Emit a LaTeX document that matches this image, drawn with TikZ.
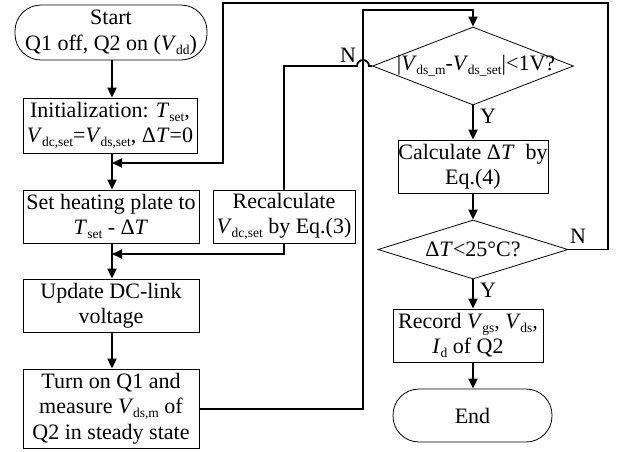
\documentclass[tikz,border=0pt]{standalone}
\usepackage{fontspec}
\setmainfont{Liberation Serif}
\usetikzlibrary{arrows.meta,shapes.geometric}
\newcommand\mysub[1]{\raisebox{-4pt}{\fontsize{13.5}{13.5}\selectfont #1}}
\newcommand\myV[1]{\textit{V}\kern-0.5pt\mysub{#1}}
\newcommand\myT{\textit{T}}
\begin{document}
\begin{tikzpicture}[x=1pt,y=1pt,
  every node/.style={font=\fontsize{22}{25.5}\selectfont, inner sep=0pt},
  stepbox/.style={draw, line width=0.8pt, align=center, anchor=center},
  term/.style={stepbox, rounded corners=26pt},
  dia/.style={draw, line width=0.8pt, shape=diamond, anchor=center},
  conn/.style={line width=1.8pt},
  arr/.style={conn, -{Triangle[length=10pt,width=9pt]}},
  lbl/.style={font=\fontsize{22}{25.5}\selectfont}]
\useasboundingbox (0,0) rectangle (623,-451);
% left column
\node[term, minimum width=192pt, minimum height=55pt] (start) at (111,-32.5) {Start\\Q1 off, Q2 on (\myV{dd})};
\node[stepbox, minimum width=174pt, minimum height=55pt] (init) at (110,-125.5) {Initialization: \myT\mysub{set},\\\myV{dc,set}=\myV{ds,set}, Δ\myT=0};
\node[stepbox, minimum width=176pt, minimum height=53pt] (heat) at (111,-216.5) {Set heating plate to\\\myT\mysub{set} - Δ\myT};
\node[stepbox, minimum width=142pt, minimum height=53pt] (recalc) at (284,-216.5) {Recalculate\\\myV{dc,set} by Eq.(3)};
\node[stepbox, minimum width=176pt, minimum height=53pt] (upd) at (111,-305.5) {Update DC-link\\voltage};
\node[stepbox, minimum width=176pt, minimum height=79pt] (turn) at (111,-408.5) {Turn on Q1 and\\measure \myV{ds,m} of\\Q2 in steady state};
% right column
\node[dia, minimum width=201pt, minimum height=78pt, label={[lbl]center:{\hspace{6pt}|\myV{ds\_m}-\myV{ds\_set}|<1V?}}] (d1) at (473,-66) {};
\node[stepbox, minimum width=150pt, minimum height=53pt] (calc) at (473,-166.5) {Calculate Δ\myT\ \ by\\Eq.(4)};
\node[dia, minimum width=190pt, minimum height=59pt, label={[lbl]center:{Δ\myT<25°C?}}] (d2) at (473,-249.5) {};
\node[stepbox, minimum width=150pt, minimum height=53pt] (rec) at (468,-335.5) {Record \myV{gs}, \myV{ds},\\\textit{I}\mysub{d} of Q2};
\node[term, minimum width=159pt, minimum height=53pt] (fin) at (472.5,-415.5) {End};
% helper coordinates
\coordinate (j1) at (112,-163);
\coordinate (j2) at (112,-254);
% straight arrows
\draw[arr] (start.south -| j1) -- (init.north -| j1);
\draw[arr] (init.south -| j1) -- (heat.north -| j1);
\draw[arr] (heat.south -| j1) -- (upd.north -| j1);
\draw[arr] (upd.south -| j1) -- (turn.north -| j1);
\draw[arr] (d1.south) -- (calc.north -| d1.south);
\draw[arr] (calc.south -| d2.north) -- (d2.north);
\draw[arr] (d2.south) -- (rec.north -| d2.south);
\draw[arr] (rec.south -| d2.south) -- (fin.north -| d2.south);
% loops
\draw[arr] (turn.east |- 0,-409) -- (363,-409) -- (363,-10) -- (473,-10) -- (d1.north);
\draw[conn] (d1.west) -- (369,-66) arc[start angle=0,end angle=180,radius=6] -- (284,-66) -- (recalc.north);
\draw[arr] (recalc.south) -- (284,-254) -- (j2);
\draw[arr] (d2.east) -- (608,-249.5) -- (608,-3) -- (223,-3) -- (223,-163) -- (j1);
% labels
\node[lbl] (n1) at (348,-55) {N};
\node[lbl] (n2) at (578,-236) {N};
\node[lbl] (y1) at (488,-116) {Y};
\node[lbl] (y2) at (488,-290) {Y};
\end{tikzpicture}
\end{document}
